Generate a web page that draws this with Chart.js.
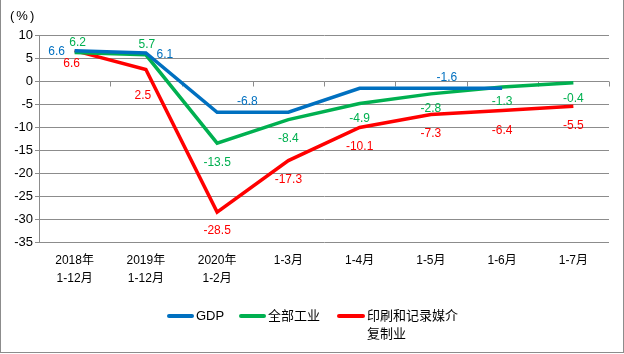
<!DOCTYPE html>
<html>
<head>
<meta charset="utf-8">
<script src="https://cdn.jsdelivr.net/npm/chart.js@4/dist/chart.umd.min.js"></script>
<style>
  html, body { margin: 0; padding: 0; background: #fff; }
  #wrap { position: relative; width: 624px; height: 354px; overflow: hidden; font-family: "Liberation Sans", "Noto Sans CJK SC", sans-serif; }
  #frame { position: absolute; left: 0; top: -2px; width: 622px; height: 353px; border: 1px solid #8c8c8c; box-sizing: content-box; pointer-events: none; }
  #unit { position: absolute; left: 10px; top: 8px; font-size: 13px; letter-spacing: 2px; color: #000; }
  .lg { position: absolute; font-size: 13px; color: #000; line-height: 18px; }
  .sw { position: absolute; height: 4px; border-radius: 2px; }
</style>
</head>
<body>
<div id="wrap">
  <canvas id="c" width="624" height="354"></canvas>
  <div id="unit">(%)</div>
  <div class="sw" style="left:167px;top:314px;width:27px;background:#0070C0"></div>
  <div class="lg" style="left:196px;top:307px">GDP</div>
  <div class="sw" style="left:239px;top:314px;width:27px;background:#00B050"></div>
  <div class="lg" style="left:268px;top:307px">全部工业</div>
  <div class="sw" style="left:337px;top:314px;width:28px;background:#FF0000"></div>
  <div class="lg" style="left:367px;top:307px">印刷和记录媒介<br>复制业</div>
  <div id="frame"></div>
</div>
<script>
'use strict';
// categories and series
const categories = [['2018年', '1-12月'], ['2019年', '1-12月'], ['2020年', '1-2月'], '1-3月', '1-4月', '1-5月', '1-6月', '1-7月'];
const gdp      = [6.6, 6.1, -6.8, -6.8, -1.6, -1.6, -1.6, null];
const industry = [6.2, 5.7, -13.5, -8.4, -4.9, -2.8, -1.3, -0.4];
const printing = [6.6, 2.5, -28.5, -17.3, -10.1, -7.3, -6.4, -5.5];
const yTicks   = { min: -35, max: 10, step: 5 };

// label offsets (dx, dy) from each point; null = no label
const labelPos = [
  [[-18, 1], [19, 2], null, [-41, -11], null, [16, -11], null, null],
  [[3, -10], [1, -10], [0, 20], [0, 19], [0, 15], [0, 15], [0, 15], [0, 16]],
  [[-3, 13], [-3, 26], [0, 19], [0, 19], [0, 19], [0, 19], [0, 20], [0, 19]],
];

const FONT = '"Liberation Sans", "Noto Sans CJK SC", sans-serif';

const pointLabels = {
  id: 'pointLabels',
  afterDatasetsDraw(chart) {
    const ctx = chart.ctx;
    ctx.save();
    ctx.font = '12px ' + FONT;
    ctx.textAlign = 'center';
    ctx.textBaseline = 'middle';
    chart.data.datasets.forEach((ds, di) => {
      const meta = chart.getDatasetMeta(di);
      meta.data.forEach((pt, i) => {
        const off = labelPos[di][i];
        if (!off || ds.data[i] == null) return;
        ctx.fillStyle = ds.borderColor;
        ctx.fillText(ds.data[i].toFixed(1), pt.x + off[0], pt.y + off[1]);
      });
    });
    ctx.restore();
  }
};

// short category ticks hanging below the zero line
const zeroTicks = {
  id: 'zeroTicks',
  beforeDatasetsDraw(chart) {
    const { ctx, chartArea: a, scales: { y } } = chart;
    const y0 = Math.round(y.getPixelForValue(0)) + 0.5;
    const w = (a.right - a.left) / categories.length;
    ctx.save();
    ctx.strokeStyle = '#8c8c8c';
    ctx.lineWidth = 1;
    ctx.beginPath();
    for (let i = 1; i <= categories.length; i++) {
      const x = Math.round(a.left + w * i) + 0.5;
      ctx.moveTo(x, y0);
      ctx.lineTo(x, y0 + 5);
    }
    ctx.stroke();
    ctx.restore();
  }
};

const line = (label, data, color) => ({
  label, data, borderColor: color, backgroundColor: color,
  borderWidth: 3.5, pointRadius: 0, tension: 0, spanGaps: false,
  borderJoinStyle: 'miter', borderCapStyle: 'butt',
});

new Chart(document.getElementById('c').getContext('2d'), {
  type: 'line',
  data: {
    labels: categories,
    datasets: [
      line('GDP', gdp, '#0070C0'),
      line('全部工业', industry, '#00B050'),
      line('印刷和记录媒介复制业', printing, '#FF0000'),
    ],
  },
  options: {
    responsive: false, animation: false, devicePixelRatio: 1,
    layout: { padding: { top: 35, right: 15, bottom: 0, left: 0 } },
    plugins: { legend: { display: false }, tooltip: { enabled: false } },
    scales: {
      x: {
        offset: true,
        grid: { display: false, drawTicks: false },
        border: { display: false },
        ticks: { color: '#000', padding: 10, maxRotation: 0, autoSkip: false, font: { family: FONT, size: 12, lineHeight: 1.5 } },
        afterFit: (s) => { s.height = 112; },
      },
      y: {
        min: yTicks.min, max: yTicks.max,
        grid: { color: '#8c8c8c', lineWidth: 1, tickLength: 4, drawTicks: true },
        border: { display: true, color: '#8c8c8c', width: 1 },
        ticks: { stepSize: yTicks.step, color: '#000', padding: 2, font: { family: FONT, size: 13 } },
        afterFit: (s) => { s.width = 39; },
      },
    },
  },
  plugins: [zeroTicks, pointLabels],
});
</script>
</body>
</html>
